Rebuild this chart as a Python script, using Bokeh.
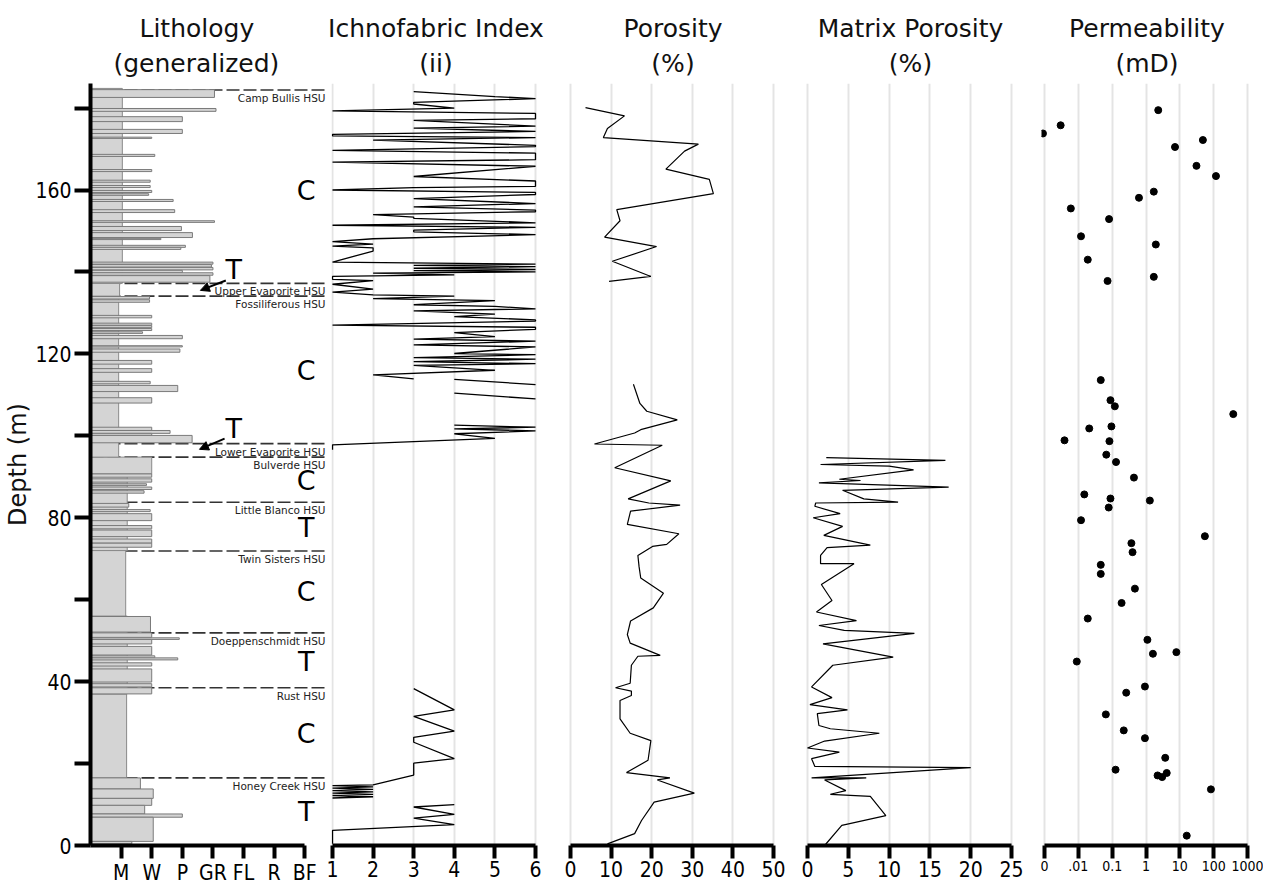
import numpy as np
from bokeh.plotting import figure
from bokeh.models import (Range1d, FixedTicker, ColumnDataSource, Title, Arrow, NormalHead)
from bokeh.layouts import row
from bokeh.embed import file_html
from bokeh.resources import INLINE
from bokeh.core.properties import value

# ------------------------------------------------------------------ data
depth_ticks = [0, 20, 40, 60, 80, 100, 120, 140, 160, 180]
depth_labelled = [0, 40, 80, 120, 160]

lith_ticks = [1, 2, 3, 4, 5, 6, 7]
lith_tick_labels = ["M", "W", "P", "GR", "FL", "R", "BF"]

# generalized lithology column (background) : base depth, top depth, texture class
col_base = [0.0, 16.5, 37.0, 56.0, 72.0, 90.7, 94.8, 134.1, 137.2]
col_top = [16.5, 37.0, 56.0, 72.0, 90.7, 94.8, 134.1, 137.2, 184.8]
col_class = [1.20, 1.18, 1.20, 1.15, 1.20, 2.00, 0.92, 0.95, 1.04]

# individual lithology beds : base depth, top depth, texture class
bed_base = [182.6, 179.2, 176.7, 173.8, 172.6, 168.2, 164.5, 161.9, 160.6, 159.4, 158.7, 157.2,
            154.5, 152.1, 150.1, 148.4, 147.9, 146.0, 145.5, 141.9, 141.2, 140.5, 139.8, 139.2,
            137.5, 133.4, 132.6, 128.8, 127.0, 126.4, 125.7, 125.0, 123.7, 121.7, 120.4, 117.5,
            115.5, 112.7, 110.8, 108.0, 101.3, 100.6, 100.1, 98.3, 89.9, 88.7, 87.9, 86.9, 86.0,
            82.6, 81.5, 79.3, 77.3, 75.4, 73.8, 72.8, 52.1, 50.8, 50.3, 49.2, 46.5, 45.8, 45.3,
            43.8, 39.9, 38.7, 37.0, 13.8, 11.5, 9.8, 7.7, 6.9, 1.0, 0.4]
bed_top = [184.5, 179.9, 177.9, 174.8, 172.9, 168.7, 165.0, 162.4, 161.1, 159.9, 159.1, 157.7,
           155.2, 152.5, 151.1, 149.6, 148.2, 146.5, 146.0, 142.4, 141.8, 141.1, 140.4, 139.8,
           139.1, 134.0, 133.2, 129.4, 127.5, 126.9, 126.2, 125.4, 124.5, 122.0, 121.2, 118.4,
           116.4, 113.3, 112.3, 109.3, 102.1, 101.3, 100.6, 100.1, 90.7, 89.5, 88.3, 87.5, 86.6,
           83.5, 82.0, 81.0, 78.1, 77.0, 74.8, 73.8, 55.9, 51.9, 50.7, 50.3, 48.6, 46.3, 45.8,
           44.6, 43.1, 39.5, 38.5, 16.5, 13.8, 11.5, 9.8, 7.7, 6.9, 1.0]
bed_class = [4.05, 4.10, 3.00, 3.00, 2.00, 2.10, 2.00, 1.95, 1.95, 2.00, 1.90, 2.70,
             2.75, 4.05, 2.97, 3.33, 2.30, 3.10, 2.95, 4.00, 3.95, 4.00, 3.00, 4.00,
             3.90, 1.93, 1.93, 2.00, 2.00, 2.00, 2.00, 1.70, 3.00, 3.00, 2.92, 2.00,
             2.00, 1.95, 2.85, 2.00, 2.00, 2.60, 2.00, 3.32, 2.00, 2.00, 1.83, 2.00, 1.75,
             1.25, 1.95, 2.00, 2.00, 2.00, 2.00, 2.00, 1.96, 2.00, 2.90, 2.00, 2.00, 2.10, 2.85,
             2.00, 2.00, 2.00, 2.00, 1.63, 2.05, 2.00, 1.77, 3.00, 2.05, 1.35]

hsu_names = ["Camp Bullis HSU", "Upper Evaporite HSU", "Fossiliferous HSU", "Lower Evaporite HSU",
             "Bulverde HSU", "Little Blanco HSU", "Twin Sisters HSU", "Doeppenschmidt HSU",
             "Rust HSU", "Honey Creek HSU"]
hsu_depth = [184.4, 137.2, 134.1, 98.1, 94.8, 83.8, 71.9, 51.9, 38.5, 16.5]

cycle_labels = ["C", "T", "C", "T", "C", "T", "C", "T", "C", "T"]
cycle_x = [7.05, 4.68, 7.05, 4.68, 7.05, 7.05, 7.05, 7.05, 7.05, 7.05]
cycle_depth = [159.9, 140.6, 115.9, 101.8, 89.0, 77.6, 62.0, 44.9, 27.3, 8.3]

arrow_x0 = [4.42, 4.38]
arrow_y0 = [137.9, 99.3]
arrow_x1 = [3.59, 3.56]
arrow_y1 = [135.5, 96.7]

# ichnofabric index (segments separated by gaps)
ichno_index = [
    [3, 5, 6, 3, 3, 4, 1, 6, 6, 3, 6, 3, 6, 1, 1, 6, 2, 6, 6, 1, 6, 6, 1, 6, 3, 6, 6, 3, 1, 6,
     6, 3, 6, 3, 6, 6, 2, 3, 3, 6, 1, 6, 3, 3, 6, 2, 1, 2, 1, 2, 2, 1, 6, 3, 6, 3, 6, 3, 6, 2,
     4, 1, 1, 2, 1, 2, 1, 2, 4, 2, 5, 3, 5, 6, 3, 5, 4, 6, 6, 1, 6, 6, 4, 5, 3, 6, 3, 6, 4, 6,
     3, 6, 3, 6, 3, 5, 2, 3],
    [4, 6],
    [4, 6],
    [4, 6, 4, 6, 4, 5, 1, 1],
    [3, 4, 3, 4, 3, 3, 4, 3, 3, 2, 1, 2, 1, 2, 1, 2, 1, 2, 1, 2, 1],
    [4, 3, 4, 3, 4, 1, 1],
]
ichno_depth = [
    [184.0, 182.8, 182.3, 181.4, 181.0, 180.0, 179.3, 178.7, 177.4, 177.0,
     175.6, 175.1, 174.3, 173.6, 173.2, 172.8, 172.2, 170.9, 170.6, 169.7,
     169.0, 167.4, 166.8, 165.8, 163.3, 162.2, 160.9, 160.6, 160.0, 159.4,
     158.9, 157.9, 156.7, 155.9, 155.1, 154.7, 154.0, 153.4, 153.1, 152.0,
     151.4, 150.9, 150.2, 149.8, 149.1, 148.1, 147.4, 146.8, 146.3, 145.9,
     145.1, 142.4, 141.9, 141.6, 141.3, 140.9, 140.6, 140.3, 140.0, 139.7,
     139.3, 138.9, 138.2, 137.9, 137.0, 135.8, 135.1, 134.4, 134.1, 133.5,
     133.0, 132.0, 131.6, 131.0, 130.5, 129.7, 129.1, 128.3, 128.0, 127.0,
     126.5, 126.0, 125.2, 124.2, 123.6, 123.1, 122.2, 121.7, 120.1, 119.8,
     119.1, 118.7, 118.1, 117.6, 117.2, 116.0, 114.9, 113.9],
    [113.8, 112.5],
    [110.4, 109.0],
    [102.6, 102.1, 101.7, 101.2, 100.5, 99.4, 97.8, 96.6],
    [38.3, 33.1, 31.5, 27.9, 26.4, 25.2, 21.2, 20.1, 17.2, 14.8, 14.6, 14.3, 14.0, 13.7, 13.4,
     13.1, 12.8, 12.5, 12.2, 11.9, 11.6],
    [10.0, 9.4, 7.6, 6.7, 5.1, 3.7, 0.4],
]

# porosity (%)
porosity = [
    [3.7, 13.3, 9.1, 8.1, 31.5, 28.1, 23.5, 34.2, 35.2, 11.4, 12.2, 8.4, 21.2, 10.3, 19.8, 9.5],
    [15.5, 17.1, 18.8, 26.3, 17.3, 15.8, 5.9, 22.6, 10.9, 24.7, 14.2, 19.3, 27.0, 14.8, 14.0,
     26.7, 23.7, 20.2, 16.6, 16.9, 17.3, 22.9, 20.4, 14.8, 14.0, 14.7, 22.1, 16.6, 15.0, 14.7,
     11.1, 15.0, 15.0, 12.2, 12.2, 14.7, 19.8, 19.1, 13.8, 24.5, 21.4, 30.5, 20.6, 17.5, 15.8, 9.1],
]
porosity_depth = [
    [180.1, 178.1, 175.0, 172.8, 171.2, 169.5, 165.1, 162.6, 159.1, 155.2, 152.5, 148.5, 146.2,
     142.6, 138.9, 137.7],
    [112.6, 107.9, 106.0, 103.9, 101.5, 100.7, 98.0, 97.7, 92.2, 89.0, 84.6, 83.6, 83.1, 81.6, 78.4,
     76.1, 73.5, 73.0, 70.8, 68.0, 65.3, 61.6, 58.0, 54.8, 51.5, 49.4, 46.4, 46.2, 44.0, 39.6,
     38.5, 37.7, 36.6, 35.4, 30.9, 27.4, 25.6, 20.8, 17.8, 16.5, 16.0, 12.8, 10.6, 6.1, 2.9, 0.4],
]

# matrix porosity (%)
matrix_porosity = [2.3, 16.9, 1.6, 10.0, 13.0, 3.9, 6.5, 1.4, 17.3, 4.3, 6.9, 11.1, 1.0, 0.9, 4.0,
                   0.7, 4.3, 2.0, 7.7, 2.4, 1.6, 1.6, 5.7, 1.7, 3.0, 1.1, 6.0, 1.4, 4.5, 13.1, 1.9,
                   10.5, 3.1, 0.5, 3.0, 0.3, 4.9, 1.2, 1.4, 2.8, 8.8, 2.1, 0.0, 3.9, 0.5, 0.9, 20.0,
                   0.5, 7.2, 2.1, 4.7, 2.8, 7.7, 9.6, 4.2, 2.1]
matrix_depth = [94.7, 94.0, 93.0, 92.6, 91.7, 89.4, 89.1, 88.5, 87.5, 86.7, 84.6, 83.8, 83.6, 82.8,
                81.0, 80.0, 77.9, 75.7, 73.3, 72.7, 70.8, 68.8, 68.8, 63.7, 59.8, 57.0, 54.9, 53.7,
                52.5, 51.8, 49.2, 46.0, 44.0, 38.7, 36.1, 34.4, 33.1, 32.2, 29.3, 28.5, 27.4, 25.5,
                23.8, 22.8, 21.2, 19.3, 19.0, 16.5, 16.5, 16.0, 13.4, 12.5, 12.0, 7.3, 4.9, 0.0]

# permeability (mD)
perm_md = [2.3, 0.003, 0.0009, 48, 7.2, 31, 117, 1.7, 0.62, 0.006, 0.081, 0.012, 1.95, 0.019, 1.7,
           0.073, 0.046, 0.089, 0.12, 380, 0.095, 0.021, 0.0039, 0.083, 0.067, 0.13, 0.44, 0.015,
           0.089, 1.3, 0.079, 0.012, 55, 0.37, 0.40, 0.046, 0.046, 0.47, 0.19, 0.019, 1.1, 7.9,
           1.6, 0.009, 0.93, 0.26, 0.065, 0.22, 0.93, 3.7, 0.126, 4.1, 2.2, 3.0, 83, 16]
perm_depth = [179.5, 175.8, 173.8, 172.2, 170.5, 165.9, 163.4, 159.6, 158.1, 155.5, 152.9, 148.7,
              146.7, 143.0, 138.8, 137.8, 113.6, 108.7, 107.2, 105.3, 102.3, 101.8, 98.9, 98.7,
              95.4, 93.6, 89.8, 85.7, 84.7, 84.2, 82.5, 79.4, 75.5, 73.8, 71.6, 68.5, 66.3, 62.7,
              59.2, 55.4, 50.2, 47.2, 46.8, 44.9, 38.8, 37.3, 32.0, 28.1, 26.2, 21.4, 18.5, 17.7,
              17.1, 16.7, 13.7, 2.4]
perm_ticks = [0.001, 0.01, 0.1, 1, 10, 100, 1000]
perm_tick_labels = ["0", ".01", "0.1", "1", "10", "100", "1000"]

ichno_ticks = [1, 2, 3, 4, 5, 6]
por_ticks = [0, 10, 20, 30, 40, 50]
mpor_ticks = [0, 5, 10, 15, 20, 25]

# ------------------------------------------------------------------ styling
TITLE_FONT = "DejaVu Sans"
TICK_FONT = "DejaVu Sans Condensed"
GRID = "#e4e4e4"
FRAME_H = 762
y_rng = Range1d(0, 186)


def make_fig(xr, fw, bl, br, titles, x_axis_type="linear", yaxis=False, left_offsets=None):
    p = figure(x_range=xr, y_range=y_rng, frame_width=fw, frame_height=FRAME_H,
               min_border_left=bl, min_border_right=br, min_border_top=83,
               min_border_bottom=41, output_backend="svg", toolbar_location=None,
               x_axis_type=x_axis_type, title=None,
               y_axis_location="left" if yaxis else None)
    p.outline_line_color = None
    p.background_fill_color = "white"
    p.border_fill_color = "white"
    p.ygrid.visible = False
    main, sub = titles
    if left_offsets is None:
        a_sub = a_main = dict(align="center")
    else:
        a_sub = dict(align="left", offset=left_offsets[1])
        a_main = dict(align="left", offset=left_offsets[0])
    p.add_layout(Title(text=sub, text_font=TITLE_FONT,
                       text_font_size="25px", text_font_style="normal",
                       text_color="#111111", standoff=11, **a_sub), "above")
    p.add_layout(Title(text=main, text_font=TITLE_FONT,
                       text_font_size="25px", text_font_style="normal",
                       text_color="#111111", standoff=-3, **a_main), "above")
    return p


def style_xaxis(p, ticks, bounds, labels=None, size="21px", grid=True):
    ax = p.xaxis[0]
    ax.ticker = FixedTicker(ticks=ticks)
    ax.bounds = bounds
    ax.axis_line_width = 4
    ax.axis_line_color = "black"
    ax.major_tick_line_width = 4
    ax.major_tick_line_color = "black"
    ax.major_tick_in = 0
    ax.major_tick_out = 13
    ax.minor_tick_line_color = None
    ax.major_label_text_font = TICK_FONT
    ax.major_label_text_font_size = size
    ax.major_label_text_color = "black"
    ax.major_label_standoff = 2
    if labels is not None:
        ax.major_label_overrides = dict(zip(ticks, labels))
    if grid:
        p.xgrid.ticker = FixedTicker(ticks=ticks)
        p.xgrid.grid_line_color = GRID
        p.xgrid.grid_line_width = 2
    else:
        p.xgrid.visible = False


# ---------------- panel 1 : lithology
LITH_END = 7.71
p1 = make_fig(Range1d(0, LITH_END), 236, 90, 0, ["Lithology", "(generalized)"], yaxis=True,
              left_offsets=(49, 23))
style_xaxis(p1, lith_ticks, (0, 7), lith_tick_labels, grid=False)
ya = p1.yaxis[0]
ya.ticker = FixedTicker(ticks=depth_ticks)
ya.major_label_overrides = {t: "" for t in depth_ticks if t not in depth_labelled}
ya.axis_label = "Depth (m)"
ya.axis_label_text_font = TITLE_FONT
ya.axis_label_text_font_size = "24px"
ya.axis_label_text_font_style = "normal"
ya.axis_label_text_color = "#111111"
ya.axis_label_standoff = 0
ya.axis_line_width = 4
ya.axis_line_color = "black"
ya.major_tick_line_width = 4
ya.major_tick_line_color = "black"
ya.major_tick_in = 0
ya.major_tick_out = 16
ya.minor_tick_line_color = None
ya.major_label_text_font = TICK_FONT
ya.major_label_text_font_size = "21px"
ya.major_label_text_color = "black"
ya.major_label_standoff = 3

hsu_src = ColumnDataSource(dict(name=hsu_names, depth=hsu_depth,
                                x0=[0] * len(hsu_names), x1=[LITH_END] * len(hsu_names)))
p1.segment(x0="x0", x1="x1", y0="depth", y1="depth", source=hsu_src,
           line_color="#333333", line_width=1.6, line_dash="13 4")
p1.quad(left=0, right="cls", bottom="base", top="top",
        source=ColumnDataSource(dict(base=col_base, top=col_top, cls=col_class)),
        fill_color="#d4d4d4", line_color="#8a8a8a", line_width=1)
p1.quad(left=0, right="cls", bottom="base", top="top",
        source=ColumnDataSource(dict(base=bed_base, top=bed_top, cls=bed_class)),
        fill_color="#d4d4d4", line_color="#7a7a7a", line_width=1)
p1.text(x="x1", y="depth", text="name", source=hsu_src, text_align="right",
        text_baseline="top", y_offset=2, x_offset=-1, text_font=value(TITLE_FONT),
        text_font_size="10.5px", text_color="#222222")
p1.text(x="x", y="depth", text="lab",
        source=ColumnDataSource(dict(x=cycle_x, depth=cycle_depth, lab=cycle_labels)),
        text_align="center", text_baseline="middle", text_font=value(TITLE_FONT),
        text_font_size="27px", text_color="black")
p1.add_layout(Arrow(end=NormalHead(size=9, fill_color="black", line_color="black"),
                    x_start="x0", y_start="y0", x_end="x1", y_end="y1",
                    source=ColumnDataSource(dict(x0=arrow_x0, y0=arrow_y0,
                                                 x1=arrow_x1, y1=arrow_y1)),
                    line_width=2, line_color="black"))

# ---------------- panel 2 : ichnofabric index
p2 = make_fig(Range1d(0.975, 6.123), 209, 5, 14, ["Ichnofabric Index", "(ii)"])
style_xaxis(p2, ichno_ticks, (1, 6))
p2.multi_line(xs=ichno_index, ys=ichno_depth, line_color="black", line_width=1.3)

# ---------------- panel 3 : porosity
p3 = make_fig(Range1d(-0.49, 50.99), 209, 14, 15, ["Porosity", "(%)"])
style_xaxis(p3, por_ticks, (0, 50))
p3.multi_line(xs=porosity, ys=porosity_depth, line_color="black", line_width=1.2)

# ---------------- panel 4 : matrix porosity
p4 = make_fig(Range1d(-0.245, 25.49), 210, 13, 14, ["Matrix Porosity", "(%)"])
style_xaxis(p4, mpor_ticks, (0, 25))
p4.line(x=matrix_porosity, y=matrix_depth, line_color="black", line_width=1.2)

# ---------------- panel 5 : permeability
p5 = make_fig(Range1d(10 ** -3.089, 10 ** 3.148), 211, 12, 11, ["Permeability", "(mD)"],
              x_axis_type="log")
style_xaxis(p5, perm_ticks, (0.001, 1000), perm_tick_labels, size="14px")
p5.scatter(x=perm_md, y=perm_depth, size=7, color="black")

layout = row(p1, p2, p3, p4, p5, spacing=0)
open("out.html", "w").write(file_html(layout, INLINE))
